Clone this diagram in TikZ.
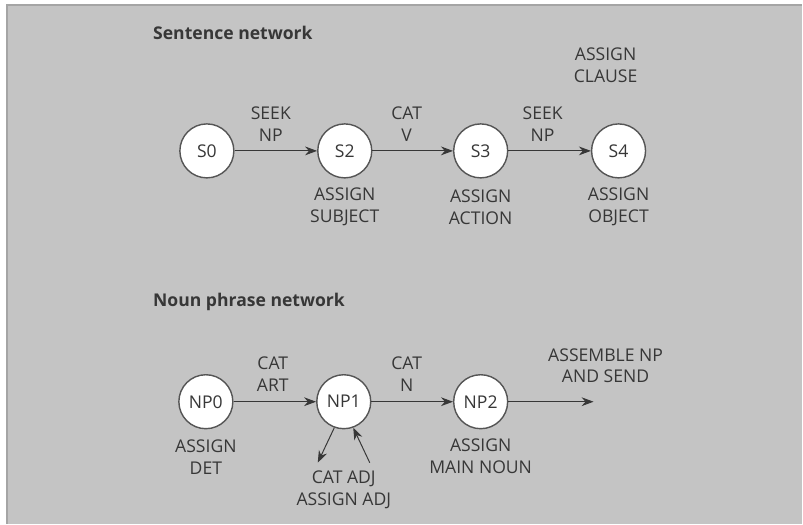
\documentclass[tikz,border=0pt]{standalone}
\usepackage{fontspec}
\setmainfont{Open Sans}
\usetikzlibrary{positioning,arrows.meta}

\definecolor{panel}{RGB}{196,196,196}
\definecolor{ink}{RGB}{55,55,55}

\tikzset{
    state/.style={circle, draw=ink!85, fill=white, line width=1pt,
        minimum size=1.35cm, inner sep=0pt, text=ink},
    lbl/.style={align=center, text=ink, inner sep=0pt},
    title/.style={anchor=west, text=ink, inner sep=0pt,
        font=\fontsize{12.5}{15.6}\selectfont\bfseries},
    arc/.style={-{Stealth[length=3mm,width=2.2mm]}, draw=ink, line width=0.7pt},
}

\begin{document}
\begin{tikzpicture}[x=0.025cm, y=-0.025cm, font=\fontsize{12.5}{15.6}\selectfont]
    % panel
    \fill[white] (0,0) rectangle (803,524);
    \fill[panel] (7,5) rectangle (803,524);
    \draw[ink!45, line width=0.8pt] (7,524) -- (7,5) -- (803,5);

    % sentence network
    \node[title] (sent) at (153,33) {Sentence network};
    \node[state] (S0) at (207,151) {S0};
    \node[state] (S2) at (345,151) {S2};
    \node[state] (S3) at (481,151) {S3};
    \node[state] (S4) at (619,151) {S4};

    \draw[arc] (S0) -- (S2);
    \draw[arc] (S2) -- (S3);
    \draw[arc] (S3) -- (S4);

    \node[lbl] (seek1) at (271,124) {SEEK\\NP};
    \node[lbl] (catv) at (407,124) {CAT\\V};
    \node[lbl] (seek2) at (543,124) {SEEK\\NP};
    \node[lbl] (clause) at (606,65) {ASSIGN\\CLAUSE};
    \node[lbl] (subj) at (345,207) {ASSIGN\\SUBJECT};
    \node[lbl] (action) at (481,207) {ASSIGN\\ACTION};
    \node[lbl] (object) at (619,207) {ASSIGN\\OBJECT};

    % noun phrase network
    \node[title] (noun) at (153,302) {Noun phrase network};
    \node[state] (NP0) at (206,402) {NP0};
    \node[state] (NP1) at (344,402) {NP1};
    \node[state] (NP2) at (481,402) {NP2};
    \coordinate (send) at (594,402);
    \coordinate (adjout) at (318,463);
    \coordinate (adjin) at (370,463);

    \draw[arc] (NP0) -- (NP1);
    \draw[arc] (NP1) -- (NP2);
    \draw[arc] (NP2) -- (send);
    \draw[arc] (NP1.250) -- (adjout);
    \draw[arc] (adjin) -- (NP1.290);

    \node[lbl] (catart) at (273,374) {CAT\\ART};
    \node[lbl] (catn) at (407,374) {CAT\\N};
    \node[lbl] (assemble) at (606,366) {ASSEMBLE NP\\AND SEND};
    \node[lbl] (det) at (206,457) {ASSIGN\\DET};
    \node[lbl] (mainnoun) at (481,457) {ASSIGN\\MAIN NOUN};
    \node[lbl] (adj) at (344,490) {CAT ADJ\\ASSIGN ADJ};
\end{tikzpicture}
\end{document}
